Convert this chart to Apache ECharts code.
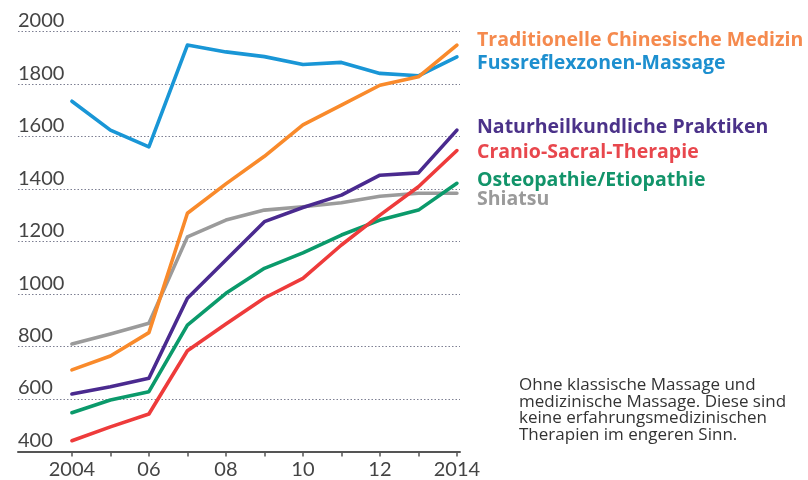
<!DOCTYPE html>
<html>
<head>
<meta charset="utf-8">
<script src="https://cdn.jsdelivr.net/npm/echarts@6/dist/echarts.min.js"></script>
<style>
  html, body { margin: 0; padding: 0; background: #fff; }
  #main { width: 808px; height: 480px; }
</style>
</head>
<body>
<div id="main"></div>
<script>
// Jahre
const years = [2004, 2005, 2006, 2007, 2008, 2009, 2010, 2011, 2012, 2013, 2014];
const yearLabels = [2004, 2006, 2008, 2010, 2012, 2014];

// Werte je Therapie
const tcm = [711, 764, 853, 1308, 1420, 1525, 1645, 1720, 1796, 1828, 1949];
const fussreflex = [1735, 1625, 1561, 1949, 1923, 1905, 1875, 1883, 1841, 1832, 1904];
const naturheil = [619, 647, 679, 984, 1130, 1276, 1330, 1377, 1453, 1462, 1625];
const cranio = [441, 494, 543, 784, 886, 985, 1060, 1187, 1301, 1409, 1547];
const osteo = [548, 596, 628, 882, 1003, 1098, 1157, 1225, 1282, 1320, 1422];
const shiatsu = [810, 848, 889, 1218, 1282, 1320, 1333, 1348, 1373, 1384, 1384];

const names = [
    'Traditionelle Chinesische Medizin',
    'Fussreflexzonen-Massage',
    'Naturheilkundliche Praktiken',
    'Cranio-Sacral-Therapie',
    'Osteopathie/Etiopathie',
    'Shiatsu'
];
const values = [tcm, fussreflex, naturheil, cranio, osteo, shiatsu];
const colors = ['#f98a2b', '#1996d6', '#4a2a8f', '#ee3b3b', '#0b9a6b', '#9b9b9b'];
const labelColors = ['#f58a4e', '#1d8fcf', '#4b3289', '#e8474d', '#12946a', '#9a9a9a'];
const labelY = [40, 63, 127, 152, 180, 199];

const note = 'Ohne klassische Massage und\nmedizinische Massage. Diese sind\nkeine erfahrungsmedizinischen\nTherapien im engeren Sinn.';

var chartDom = document.getElementById('main');
var myChart = echarts.init(chartDom);
var option;

const seriesList = names.map((name, i) => ({
    name,
    type: 'line',
    showSymbol: false,
    silent: true,
    lineStyle: { width: 3.6, color: colors[i], cap: 'round', join: 'round' },
    itemStyle: { color: colors[i] },
    z: 10 - i,
    data: years.map((y, j) => [y, values[i][j]])
}));

const labels = names.map((name, i) => ({
    type: 'text',
    left: 477,
    top: labelY[i] - 10,
    style: {
        text: name,
        fill: labelColors[i],
        font: 'bold 19.5px "Open Sans", sans-serif'
    }
}));

option = {
    animation: false,
    backgroundColor: '#fff',
    grid: {
        left: 18,
        right: 348,
        top: 31.7,
        bottom: 28.5,
        containLabel: false
    },
    xAxis: {
        type: 'value',
        min: 2002.6,
        max: 2014.08,
        axisLine: { show: true, lineStyle: { color: '#555', width: 2 } },
        axisTick: {
            show: true,
            customValues: years,
            length: 5,
            lineStyle: { color: '#555', width: 1.5 }
        },
        axisLabel: {
            customValues: yearLabels,
            margin: 8,
            color: '#444',
            fontSize: 20,
            fontFamily: 'Lato',
            formatter: function (v) {
                if (v === 2004 || v === 2014) return String(v);
                return String(v).slice(2);
            }
        },
        splitLine: { show: false }
    },
    yAxis: {
        type: 'value',
        min: 400,
        max: 2000,
        interval: 200,
        axisLine: { show: false },
        axisTick: { show: false },
        axisLabel: {
            inside: true,
            margin: 0,
            verticalAlign: 'bottom',
            padding: [0, 0, 1, 0],
            color: '#444',
            fontSize: 20,
            fontFamily: 'Lato',
            formatter: function (v) { return String(v); }
        },
        splitLine: {
            show: true,
            lineStyle: { color: '#7d7f92', type: [1.5, 2], width: 1 }
        }
    },
    graphic: labels.concat([{
        type: 'text',
        left: 519,
        top: 376.5,
        style: {
            text: note,
            fill: '#333',
            font: '17px "Open Sans", sans-serif',
            lineHeight: 16.8
        }
    }]),
    series: seriesList
};

option && myChart.setOption(option);
</script>
</body>
</html>
